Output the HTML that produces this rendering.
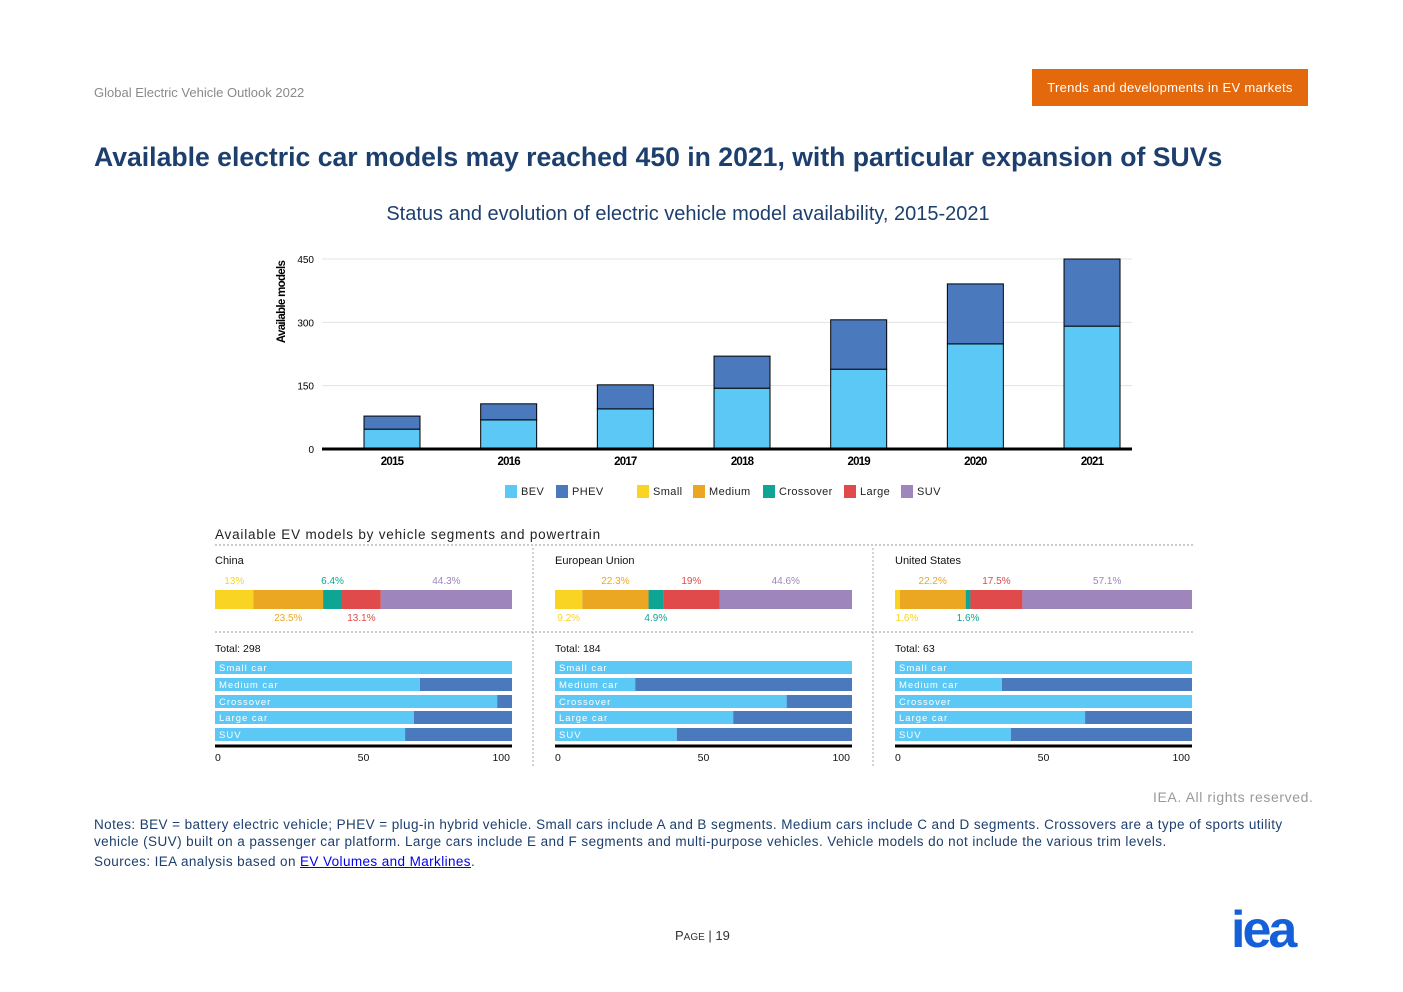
<!DOCTYPE html>
<html><head><meta charset="utf-8">
<style>
body{margin:0;width:1403px;height:992px;background:#fff;font-family:"Liberation Sans",sans-serif;position:relative;overflow:hidden}
.abs{position:absolute}
</style></head>
<body>
<div class="abs" style="left:94px;top:85px;font-size:13px;color:#8a8a8a">Global Electric Vehicle Outlook 2022</div>
<div class="abs" style="left:1032px;top:69px;width:276px;height:37px;background:#e4690c;color:#fff;font-size:13px;line-height:37px;text-align:center;letter-spacing:0.3px">Trends and developments in EV markets</div>
<div class="abs" style="left:94px;top:142px;font-size:26.6px;font-weight:bold;color:#1d3f6e;white-space:nowrap">Available electric car models may reached 450 in 2021, with particular expansion of SUVs</div>
<div class="abs" style="left:0;width:1376px;top:203px;text-align:center;font-size:20px;color:#1d3f6e">Status and evolution of electric vehicle model availability, 2015-2021</div>
<svg class="abs" id="chart" style="left:0;top:0" width="1403" height="992" font-family="Liberation Sans, sans-serif"></svg>
<div class="abs" style="left:1153px;top:789px;font-size:14px;color:#999;letter-spacing:0.6px">IEA. All rights reserved.</div>
<div class="abs" style="left:94px;top:816px;width:1215px;font-size:13.5px;line-height:17px;color:#1d3f6e;letter-spacing:0.42px">Notes: BEV = battery electric vehicle; PHEV = plug-in hybrid vehicle. Small cars include A and B segments. Medium cars include C and D segments. Crossovers are a type of sports utility vehicle (SUV) built on a passenger car platform. Large cars include E and F segments and multi-purpose vehicles. Vehicle models do not include the various trim levels.</div>
<div class="abs" style="left:94px;top:854px;font-size:13.5px;color:#1d3f6e;letter-spacing:0.4px">Sources: IEA analysis based on <span style="color:#00e;text-decoration:underline">EV Volumes and </span><span style="color:#00e;text-decoration:underline">Marklines</span>.</div>
<div class="abs" style="left:675px;top:928px;font-size:13px;color:#333">P<span style="font-size:10px">AGE</span> | 19</div>
<div class="abs" style="left:1231px;top:900px;font-size:52px;font-weight:bold;color:#1560d9;letter-spacing:-3px">iea</div>
<script>
const years=["2015","2016","2017","2018","2019","2020","2021"];
const bev=[47,69,95,144,189,249,291];
const phev=[31,38,57,76,117,142,159];
const yTicks=[0,150,300,450];
const regions=["China","European Union","United States"];
const totals=[298,184,63];
const segNames=["Small","Medium","Crossover","Large","SUV"];
const segChina=[13,23.5,6.4,13.1,44.3];
const segEU=[9.2,22.3,4.9,19,44.6];
const segUS=[1.6,22.2,1.6,17.5,57.1];
const segAbove=[[1,0,1,0,1],[0,1,0,1,1],[0,1,0,1,1]];
const rowNames=["Small car","Medium car","Crossover","Large car","SUV"];
const bevShareChina=[100,69,95,67,64];
const bevShareEU=[100,27,78,60,41];
const bevShareUS=[100,36,100,64,39];
const xTicks=[0,50,100];

const svg=document.getElementById('chart');const NS='http://www.w3.org/2000/svg';
function mk(t,a,txt){const e=document.createElementNS(NS,t);for(const k in a)e.setAttribute(k,a[k]);if(txt!==undefined)e.textContent=txt;svg.appendChild(e);return e;}
const segCol=["#f9d423","#eba722","#0fa594","#e04a4a","#9e86bd"];
const BEVC="#5bc8f5",PHEVC="#4a79bd";
const x0=322,x1=1132,yb=449,yt=259;
const y=v=>yb-(v/450)*(yb-yt);
const slot=116.67;
const xc=i=>392+slot*i;
yTicks.forEach(t=>{
 if(t>0){let g=mk('line',{x1:x0,x2:x1,y1:y(t),y2:y(t),stroke:'#e3e3e3'});}
 let l=mk('text',{x:314,y:y(t)+4,'font-size':10,'text-anchor':'end',fill:'#000'},t);
});
years.forEach((yr,i)=>{
 const w=56,bx=xc(i)-w/2;
 let b=mk('rect',{x:bx,y:y(bev[i]),width:w,height:y(0)-y(bev[i]),fill:BEVC,stroke:'#000','stroke-width':1});
 
 let p=mk('rect',{x:bx,y:y(bev[i]+phev[i]),width:w,height:y(bev[i])-y(bev[i]+phev[i]),fill:PHEVC,stroke:'#000','stroke-width':1});
 
 let t=mk('text',{x:xc(i),y:465,'font-size':11.5,'font-weight':'bold','text-anchor':'middle',style:'letter-spacing:-0.8px'},yr);
 
});
let ax=mk('line',{x1:x0,x2:x1,y1:yb,y2:yb,stroke:'#000','stroke-width':3});

let yl=mk('text',{x:0,y:0,'font-size':11.5,'font-weight':'bold',transform:'translate(285,302) rotate(-90)','text-anchor':'middle',style:'letter-spacing:-0.7px'},'Available models');

const leg=[["BEV",BEVC,505],["PHEV",PHEVC,556],["Small",segCol[0],637],["Medium",segCol[1],693],["Crossover",segCol[2],763],["Large",segCol[3],844],["SUV",segCol[4],901]];
leg.forEach(l=>{
 let r=mk('rect',{x:l[2],y:485,width:12,height:13,fill:l[1]});
 let t=mk('text',{x:l[2]+16,y:495,'font-size':11,fill:'#222',style:'letter-spacing:0.4px'},l[0]);
});
let st=mk('text',{x:215,y:539,'font-size':13.5,fill:'#222',style:'letter-spacing:0.8px'},'Available EV models by vehicle segments and powertrain');

[[545],[632]].forEach(a=>{let d=mk('line',{x1:215,x2:1193,y1:a[0],y2:a[0],stroke:'#999','stroke-dasharray':'2,2'});});
[533,873].forEach(xx=>{let d=mk('line',{x1:xx,x2:xx,y1:548,y2:766,stroke:'#aaa','stroke-dasharray':'2,2'});});
const segData=[segChina,segEU,segUS],bevData=[bevShareChina,bevShareEU,bevShareUS];
const px=[215,555,895],W=297;
const rowY=[661,678,695,711,728];
regions.forEach((rg,ri)=>{
 const X=px[ri];
 let n=mk('text',{x:X,y:564,'font-size':11,fill:'#111'},rg);
 const seg=segData[ri];const sum=seg.reduce((a,b)=>a+b,0);let acc=0;
 seg.forEach((v,si)=>{
  const sx=X+acc/sum*W,sw=v/sum*W;acc+=v;
  let r=mk('rect',{x:sx,y:590,width:sw,height:19,fill:segCol[si]});
  const above=segAbove[ri][si];
  let t=mk('text',{x:Math.max(sx+sw/2,X+12),y:above?584:621,'font-size':10,fill:segCol[si],'text-anchor':'middle'},v+'%');
  
 });
 let tt=mk('text',{x:X,y:652,'font-size':10.5,fill:'#111'},'Total: '+totals[ri]);
 const bs=bevData[ri];
 rowNames.forEach((rn,k)=>{
  const bw=bs[k]/100*W;
  let a=mk('rect',{x:X,y:rowY[k],width:bw,height:13,fill:BEVC});
  let b=mk('rect',{x:X+bw,y:rowY[k],width:W-bw,height:13,fill:PHEVC});
  let t=mk('text',{x:X+4,y:rowY[k]+10,'font-size':9.5,fill:'#fff',style:'letter-spacing:1px'},rn);
 });
 let al=mk('line',{x1:X,x2:X+W,y1:746,y2:746,stroke:'#000','stroke-width':3});
 xTicks.forEach(tv=>{
  const tx=X+tv/100*W;
  let t=mk('text',{x:tv===0?X:(tv===100?X+W-2:tx),y:761,'font-size':10.5,fill:'#111','text-anchor':tv===0?'start':(tv===100?'end':'middle')},tv);
  
 });
});
</script>
</body></html>
